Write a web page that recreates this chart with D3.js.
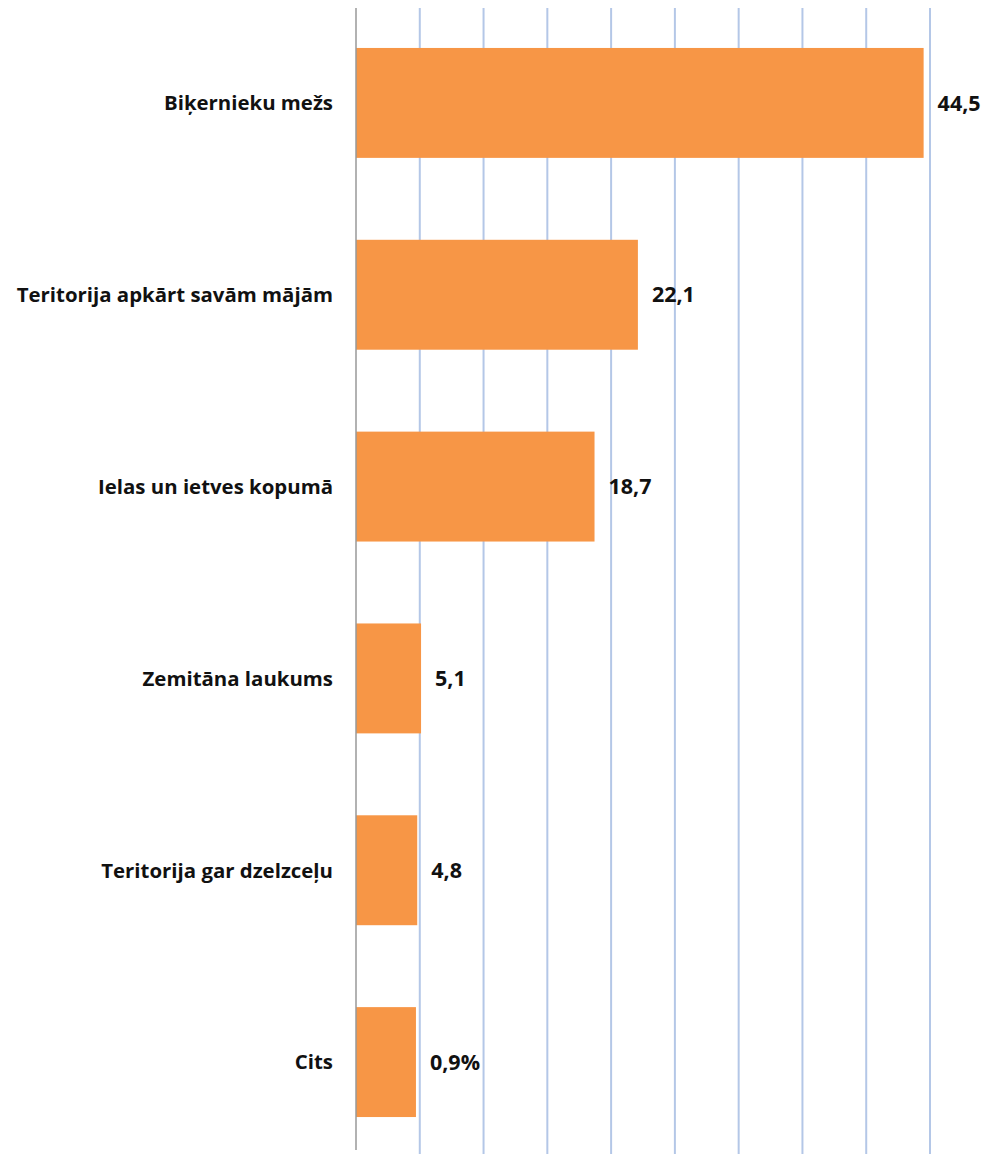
<!DOCTYPE html>
<html>
<head>
<meta charset="utf-8">
<script src="https://cdn.jsdelivr.net/npm/d3@7"></script>
<style>
  body { margin: 0; background: #fff; }
  text { font-family: "Open Sans", "Noto Sans", sans-serif; font-weight: bold; fill: #111; }
</style>
</head>
<body>
<div id="chart"></div>
<script>
var categories = ["Biķernieku mežs", "Teritorija apkārt savām mājām", "Ielas un ietves kopumā",
                  "Zemitāna laukums", "Teritorija gar dzelzceļu", "Cits"];
var values = [44.5, 22.1, 18.7, 5.1, 4.8, 4.7];
var valueLabels = ["44,5", "22,1", "18,7", "5,1", "4,8", "0,9%"];
var gridTicks = [5, 10, 15, 20, 25, 30, 35, 40, 45];

var outerWidth = 989;
var outerHeight = 1154;

var data = categories.map(function (c, i) {
  return { cat: c, value: values[i], label: valueLabels[i] };
});

var svg = d3.select("#chart").append("svg")
  .attr("width", outerWidth)
  .attr("height", outerHeight);

var xScale = d3.scaleLinear().domain([0, 45]).range([356, 930]);
var yScale = d3.scaleBand().domain(categories).range([7, 1158])
  .paddingInner(0.427).paddingOuter(0.2135);

// gridlines
svg.append("g").selectAll("line").data(gridTicks).enter().append("line")
  .attr("x1", function (d) { return xScale(d); })
  .attr("x2", function (d) { return xScale(d); })
  .attr("y1", 8).attr("y2", outerHeight)
  .attr("stroke", "#b4c7e7").attr("stroke-width", 2);

// bars
svg.append("g").selectAll("rect").data(data).enter().append("rect")
  .attr("x", xScale(0))
  .attr("y", function (d) { return yScale(d.cat); })
  .attr("width", function (d) { return xScale(d.value) - xScale(0); })
  .attr("height", yScale.bandwidth())
  .attr("fill", "#f79646");

// axis line
svg.append("line")
  .attr("x1", xScale(0)).attr("x2", xScale(0))
  .attr("y1", 8).attr("y2", 1150)
  .attr("stroke", "#999").attr("stroke-width", 1.5);

// category labels
svg.append("g").selectAll("text").data(data).enter().append("text")
  .attr("x", 333)
  .attr("y", function (d) { return yScale(d.cat) + yScale.bandwidth() / 2; })
  .attr("dy", "0.36em")
  .attr("text-anchor", "end")
  .style("font-size", "20.4px")
  .text(function (d) { return d.cat; });

// value labels
svg.append("g").selectAll("text").data(data).enter().append("text")
  .attr("x", function (d) { return xScale(d.value) + 14; })
  .attr("y", function (d) { return yScale(d.cat) + yScale.bandwidth() / 2; })
  .attr("dy", "0.36em")
  .style("font-size", "21.5px")
  .text(function (d) { return d.label; });
</script>
</body>
</html>
